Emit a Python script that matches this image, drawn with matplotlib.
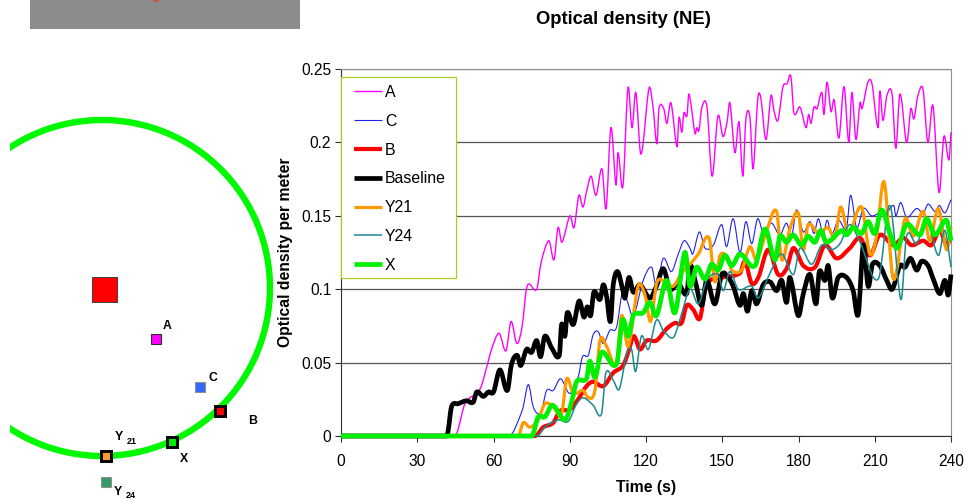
import matplotlib
matplotlib.use("Agg")
import matplotlib.pyplot as plt
from matplotlib.lines import Line2D
from matplotlib.patches import Circle, PathPatch, Rectangle
from matplotlib.path import Path

plt.rcParams["font.family"] = ["Liberation Sans", "DejaVu Sans"]

# (time s, optical density), turning points mostly
a_pts = [(0, 0), (43.7, 0), (45.6, .002), (48.8, .022), (54.7, .032), (57.8, .05), (59.4, .06), (62.2, .07),
         (64.9, .058), (66.9, .078), (69.2, .063), (71.2, .074), (73.2, .102), (77, .1), (78.7, .118),
         (81.8, .133), (83.8, .12), (85.4, .142), (86.9, .132), (90.1, .15), (91.7, .142), (93.6, .164),
         (95.2, .156), (96.8, .168), (98.4, .177), (100.3, .164), (102.7, .182), (104.3, .155), (106.2, .21),
         (108.2, .171), (109, .193), (110.9, .17), (112.9, .237), (114.5, .21), (116, .234), (118, .192),
         (121.2, .237), (122.7, .225), (124.3, .199), (125.1, .223), (127, .223), (128.2, .213), (129.8, .227),
         (132.2, .197), (133, .217), (134.1, .207), (134.9, .22), (136.1, .218), (136.9, .233), (139.3, .206),
         (140, .21), (140.8, .208), (142, .224), (144, .224), (146, .177), (148.3, .218), (150.3, .204),
         (151.9, .214), (153, .227), (155, .193), (156.6, .214), (158.1, .177), (159.3, .216), (160.9, .217),
         (162.1, .182), (164, .23), (165.2, .23), (167.2, .202), (169.2, .232), (170.3, .222), (171.9, .215),
         (173.9, .238), (175.5, .24), (177, .245), (178.2, .22), (180.6, .224), (183, .21), (184, .219),
         (184.9, .213), (186.1, .224), (187.3, .223), (189.2, .234), (190, .219), (191.2, .241), (192.8, .221),
         (194, .229), (195.9, .203), (197.9, .238), (199.8, .2), (201, .234), (202.6, .202), (204.2, .227),
         (205, .223), (207.3, .241), (208.9, .24), (211.3, .21), (212, .235), (213.2, .215), (214.8, .232),
         (216.8, .233), (218.3, .196), (219.9, .233), (222.3, .201), (223, .203), (224.2, .223), (225.4, .216),
         (227, .232), (229, .236), (230.9, .2), (232.9, .225), (235.3, .166), (237.2, .204), (239.2, .188),
         (240, .207)]
c_pts = [(0, 0), (66, 0), (71.4, .018), (73.7, .035), (75.6, .02), (77.6, .015), (78.9, .017), (80.9, .031),
         (83.5, .031), (86.4, .039), (90, .029), (93.3, .04), (95, .054), (97.3, .055), (99.2, .069),
         (101.2, .071), (103.2, .063), (105.8, .072), (108.4, .074), (110.8, .099), (112.4, .093), (115, .082),
         (118.9, .106), (122.2, .115), (124.1, .102), (126.8, .121), (130, .112), (132.7, .124), (135, .133),
         (137.3, .128), (138.4, .124), (141, .139), (143.2, .128), (146.5, .13), (149.8, .144), (151.7, .129),
         (154.3, .148), (157, .125), (159.3, .146), (161.6, .131), (163.9, .148), (166.1, .139), (169.4, .145),
         (172.7, .137), (175.3, .145), (177.3, .136), (179.2, .154), (181.9, .139), (184.5, .146), (186.1, .138),
         (187.8, .148), (189.7, .138), (191.3, .147), (193, .137), (195.6, .147), (198.9, .142), (200.5, .164),
         (202.9, .142), (205.5, .155), (208.7, .15), (212, .152), (215, .153), (217.5, .157), (218.3, .15),
         (220.2, .159), (222.5, .149), (226.5, .155), (229.1, .152), (231, .158), (233.7, .153), (235.4, .157),
         (237.6, .152), (240, .161)]
b_pts = [(0, 0), (76.3, 0), (79.6, .006), (83.5, .009), (86.1, .017), (90, .018), (93.3, .025), (96.6, .034),
         (99.2, .037), (103.2, .034), (107.1, .043), (111, .048), (113, .057), (115.2, .068), (117.6, .059),
         (120.2, .065), (124.1, .065), (128.1, .073), (131.4, .077), (134, .077), (136, .089), (138.6, .086),
         (141.2, .08), (143.2, .099), (145.2, .106), (150, .108), (157, .111), (158.9, .119), (161.6, .104),
         (164.2, .108), (168.1, .127), (172, .11), (175.3, .114), (178, .128), (181.9, .116), (186.5, .115),
         (190.4, .13), (195, .121), (200.2, .128), (204.2, .135), (208.1, .123), (212, .137), (217.3, .13),
         (221.2, .135), (224.5, .13), (229.1, .133), (232.3, .13), (235.6, .14), (238.2, .13), (240, .136)]
base_pts = [(0, 0), (41.6, 0), (42.2, .004), (43.5, .02), (46.1, .022), (49.4, .024), (52, .023), (53.4, .03),
            (56, .027), (58, .03), (60, .03), (62.5, .045), (65.4, .031), (67.1, .049), (69.3, .055), (70.7, .048),
            (73, .059), (75, .057), (77, .065), (78.5, .054), (80.2, .068), (82.9, .06), (85.9, .055), (86.8, .076),
            (88.1, .068), (89, .084), (91.4, .076), (93.7, .092), (95.6, .081), (96.9, .088), (98.2, .082),
            (99.5, .098), (101.9, .093), (103.2, .103), (104.5, .095), (106, .078), (107.1, .103), (108.8, .112),
            (110.8, .1), (111.7, .094), (113.3, .108), (115, .098), (117.6, .103), (121.5, .094), (124.1, .102),
            (126.8, .114), (129.4, .1), (132.7, .104), (136, .097), (137.3, .116), (139.3, .106), (141.9, .089),
            (143.9, .106), (147.1, .09), (149.8, .11), (152.4, .108), (154.3, .102), (157, .089), (158.3, .097),
            (159.9, .085), (161.6, .099), (163.5, .09), (166.1, .103), (168.8, .105), (171.4, .099), (173.4, .106),
            (175.3, .091), (176.6, .108), (179.9, .082), (181.9, .097), (184.5, .11), (186.9, .09), (188.2, .112),
            (190.4, .106), (191.7, .116), (193.3, .094), (195.6, .108), (198.9, .108), (201.5, .099), (203.5, .083),
            (205.5, .13), (207.4, .102), (209.1, .117), (212, .116), (214.7, .106), (216.9, .1), (219.9, .116),
            (221.9, .115), (224.1, .121), (226.5, .113), (228.4, .119), (231, .116), (233, .107), (235.6, .097),
            (237.6, .106), (238.9, .096), (240, .11)]
y21_pts = [(0, 0), (69.7, 0), (71.7, .009), (74.3, .006), (77.6, .011), (80.2, .022), (83.5, .02), (86.8, .015),
           (88.8, .039), (91.4, .029), (95.3, .031), (97.3, .026), (99.9, .031), (101.9, .065), (104.5, .061),
           (108.4, .049), (110.4, .082), (113, .061), (116.9, .102), (119.6, .096), (121.8, .078), (124.2, .104),
           (126.8, .106), (130.7, .102), (134, .111), (137.3, .117), (140.6, .124), (144.8, .135), (147.1, .105),
           (149.1, .123), (152.4, .121), (153.7, .113), (157.6, .113), (160.9, .129), (163.5, .12), (167.5, .14),
           (171.4, .153), (173.4, .12), (176.6, .141), (179.9, .152), (181.9, .127), (183.8, .144), (187.8, .138),
           (191.7, .142), (194.3, .135), (196.6, .156), (199.6, .138), (204.8, .156), (208.1, .124), (210.7, .136),
           (213.7, .173), (217.3, .107), (221.9, .148), (225.1, .136), (229.1, .153), (231.7, .133), (235, .155),
           (238.2, .127), (240, .142)]
y24_pts = [(0, 0), (77, 0), (80.2, .006), (85.5, .011), (89.4, .01), (92.7, .022), (95.3, .026), (99.2, .021),
           (102.5, .015), (104.2, .043), (107.1, .038), (109.5, .032), (112.4, .056), (114.3, .059), (115.9, .044),
           (118.2, .068), (120.9, .059), (124.1, .079), (126.8, .072), (130.7, .067), (133.3, .079), (137.3, .1),
           (140.6, .09), (143.9, .106), (148.4, .11), (150.4, .099), (153, .112), (156.3, .1), (161.6, .102),
           (164.2, .094), (168.8, .111), (173.4, .124), (178, .11), (180.6, .128), (185.2, .117), (189.1, .13),
           (193, .127), (196.3, .131), (200.2, .144), (204.2, .132), (211.4, .107), (216, .157), (220.3, .093),
           (222.5, .136), (226.5, .131), (230.4, .147), (235, .123), (237.6, .14), (240, .115)]
x_pts = [(0, 0), (75, 0), (77.6, .013), (80.2, .013), (83.2, .021), (88.1, .011), (90.7, .023), (92.7, .037),
         (96.6, .039), (97.9, .051), (99.9, .04), (102.5, .057), (108.4, .049), (110.8, .079), (113, .068),
         (115, .082), (118.9, .084), (121.5, .091), (124.1, .082), (128.1, .106), (131.4, .084), (135.3, .125),
         (137.3, .102), (139.9, .115), (143.2, .107), (145.8, .117), (148.4, .113), (151, .123), (153.7, .116),
         (157, .124), (162.9, .116), (166.8, .141), (170.7, .12), (172.7, .136), (175.3, .132), (177.9, .137),
         (181.2, .13), (183.8, .136), (186.5, .132), (188.7, .14), (191, .132), (197, .14), (198.9, .137),
         (201.5, .142), (204.8, .138), (207.4, .146), (210, .138), (212.7, .154), (216, .138), (218.8, .128),
         (222.5, .144), (227.8, .137), (230.4, .148), (233.7, .137), (238.2, .147), (240, .133)]

series_names = ["A", "C", "B", "Baseline", "Y21", "Y24", "X"]
series_pts = [a_pts, c_pts, b_pts, base_pts, y21_pts, y24_pts, x_pts]
series_colors = ["#ff00ff", "#2020ee", "#ff0000", "#000000", "#ff9900", "#1a8a8f", "#00f000"]
series_widths = [1.0, 0.8, 3.0, 3.4, 2.3, 1.1, 3.4]

x_ticks = [0, 30, 60, 90, 120, 150, 180, 210, 240]
y_ticks = [0, 0.05, 0.1, 0.15, 0.2, 0.25]
y_labels = ["0", "0.05", "0.1", "0.15", "0.2", "0.25"]

# schematic on the left, in picture pixels
ring_center = (102, 288)
ring_radius = 168
sensor_names = ["A", "C", "B", "X", "Y21", "Y24"]
sensor_xy = [(156, 339), (200, 387), (220, 411), (172, 442), (106, 456), (106, 482)]
sensor_colors = ["#ff00ff", "#3366ff", "#ff0000", "#00ee00", "#ff9933", "#339966"]
sensor_thick = [False, False, True, True, True, False]


def smooth_path(pts):
    # the chart uses smoothed lines, so join the read points with bezier segments
    verts = [pts[0]]
    codes = [Path.MOVETO]
    n = len(pts)
    for i in range(n - 1):
        x0, y0 = pts[i]
        x1, y1 = pts[i + 1]
        xa, ya = pts[max(i - 1, 0)]
        xb, yb = pts[min(i + 2, n - 1)]
        m0 = (y1 - ya) / (x1 - xa)
        m1 = (yb - y0) / (xb - x0)
        # stay flat on the zero run before the rise
        if y0 == 0:
            m0 = 0
        if y1 == 0:
            m1 = 0
        h = (x1 - x0) / 3
        verts += [(x0 + h, y0 + m0 * h), (x1 - h, y1 - m1 * h), (x1, y1)]
        codes += [Path.CURVE4, Path.CURVE4, Path.CURVE4]
    return Path(verts, codes)


fig = plt.figure(figsize=(9.68, 4.99), dpi=100)

sk = fig.add_axes([0, 0, 1, 1])
sk.set_xlim(0, 968)
sk.set_ylim(499, 0)
sk.axis("off")
sk.add_patch(Rectangle((30, 0), 270, 29, fc="#8c8c8c", ec="none"))
sk.add_patch(Circle((156, -2), 4, fc="#e04020", ec="none", alpha=0.7))
clip = Rectangle((10, 0), 400, 499, transform=sk.transData)
ring = Circle(ring_center, ring_radius, fc="none", ec="#00f800", lw=4.6)
sk.add_patch(ring)
ring.set_clip_path(clip)
sk.add_patch(Rectangle((92, 277), 25, 25, fc="#ff0000", ec="#404040", lw=0.7))
for name, (sx, sy), col, thick in zip(sensor_names, sensor_xy, sensor_colors, sensor_thick):
    if thick:
        sk.add_patch(Rectangle((sx - 5, sy - 5), 10, 10, fc=col, ec="black", lw=2.1, zorder=3))
    else:
        sk.add_patch(Rectangle((sx - 5, sy - 5), 10, 10, fc=col, ec="#909090" if name != "A" else "#303030",
                               lw=0.8, zorder=3))
for txt, tx, ty in [("A", 167, 326), ("C", 213, 378), ("B", 253, 421), ("X", 184, 459)]:
    sk.text(tx, ty, txt, fontsize=8.8, fontweight="bold", ha="center", va="center")
sk.text(115, 437, "Y", fontsize=8.8, fontweight="bold", ha="left", va="center")
sk.text(127, 441, "21", fontsize=6.5, fontweight="bold", ha="left", va="center")
sk.text(114, 492, "Y", fontsize=8.8, fontweight="bold", ha="left", va="center")
sk.text(126, 496, "24", fontsize=6.5, fontweight="bold", ha="left", va="center")

ax = fig.add_axes([341 / 968, 1 - 436 / 499, 610 / 968, 367 / 499])
ax.patch.set_alpha(0)
handles = []
for name, pts, col, lw in zip(series_names, series_pts, series_colors, series_widths):
    ax.add_patch(PathPatch(smooth_path(pts), fc="none", ec=col, lw=lw, clip_on=False, joinstyle="round",
                           capstyle="butt", zorder=3))
    handles.append(Line2D([], [], color=col, lw=lw, label=name, solid_capstyle="butt"))

ax.set_xlim(0, 240)
ax.set_ylim(0, 0.25)
ax.set_xticks(x_ticks)
ax.set_yticks(y_ticks)
ax.set_yticklabels(y_labels)
ax.tick_params(labelsize=11.2, length=4, width=0.8, color="#303030", pad=3)
ax.tick_params(axis="x", pad=9)
ax.yaxis.grid(True, color="#555555", lw=0.9)
ax.set_axisbelow(True)
ax.spines["top"].set_color("#909090")
ax.spines["right"].set_color("#909090")
ax.spines["left"].set_color("#303030")
ax.spines["bottom"].set_color("#303030")
ax.set_xlabel("Time (s)", fontsize=11.3, fontweight="bold", labelpad=8)
ax.set_ylabel("Optical density per meter", fontsize=11.3, fontweight="bold", labelpad=6)
fig.text(623 / 968, 1 - 20 / 499, "Optical density (NE)", fontsize=13.3, fontweight="bold", ha="center", va="center")

# legend frame is its own box, the padding in it is not even
ax.add_patch(Rectangle((0, 1 - 209 / 367), 115 / 610, 201 / 367, transform=ax.transAxes, fc="white",
                       ec="#a6d020", lw=0.9, zorder=4, clip_on=False))
leg = ax.legend(handles=handles, loc="upper left", bbox_to_anchor=(13 / 610, 1 - 16 / 367), borderaxespad=0,
                borderpad=0, fontsize=11.4, frameon=False, labelspacing=0.87, handlelength=1.75, handletextpad=0.2)

fig.savefig("out.png", dpi=100)
